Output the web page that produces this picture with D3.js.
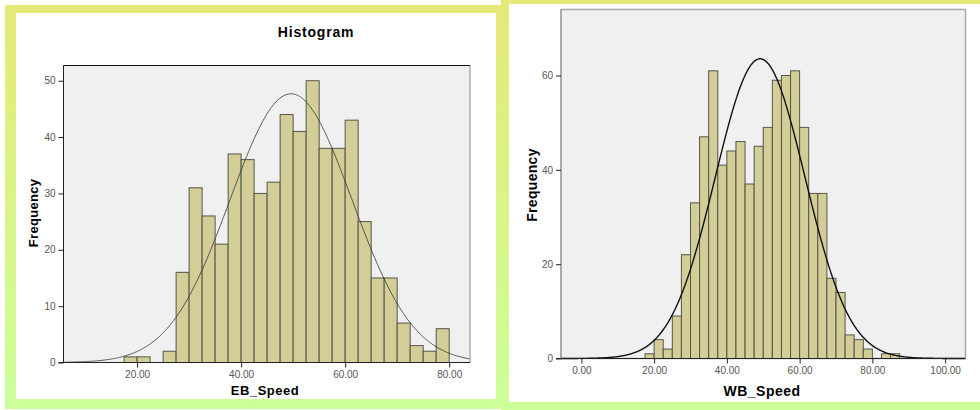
<!DOCTYPE html>
<html>
<head>
<meta charset="utf-8">
<script src="https://cdn.jsdelivr.net/npm/d3@7"></script>
<style>
  body { margin: 0; background: #fff; }
  svg { display: block; font-family: "Liberation Sans", Arial, sans-serif; }
</style>
</head>
<body>
<div id="chart"></div>
<script>
// bin start values (bins are 2.5 wide) and counts
const ebBins   = [17.5, 20, 22.5, 25, 27.5, 30, 32.5, 35, 37.5, 40, 42.5, 45, 47.5, 50, 52.5, 55, 57.5, 60, 62.5, 65, 67.5, 70, 72.5, 75, 77.5];
const ebCounts = [1, 1, 0, 2, 16, 31, 26, 21, 37, 36, 30, 32, 44, 41, 50, 38, 38, 43, 25, 15, 15, 7, 3, 2, 6];

const wbBins   = [17.5, 20, 22.5, 25, 27.5, 30, 32.5, 35, 37.5, 40, 42.5, 45, 47.5, 50, 52.5, 55, 57.5, 60, 62.5, 65, 67.5, 70, 72.5, 75, 77.5, 80, 82.5, 85];
const wbCounts = [1, 4, 2, 9, 22, 33, 47, 61, 41, 44, 46, 37, 45, 49, 59, 60, 61, 49, 35, 35, 17, 14, 5, 4, 2, 0, 1, 1];

const binWidth = 2.5;

const ebXTicks = [20, 40, 60, 80];
const ebYTicks = [0, 10, 20, 30, 40, 50];
const wbXTicks = [0, 20, 40, 60, 80, 100];
const wbYTicks = [0, 20, 40, 60];

const svg = d3.select("#chart").append("svg")
    .attr("width", 980)
    .attr("height", 410);

const grad = svg.append("defs").append("linearGradient")
    .attr("id", "frameGrad")
    .attr("x1", 0).attr("y1", 0).attr("x2", 0).attr("y2", 1);
grad.append("stop").attr("offset", "0%").attr("stop-color", "#e5e977");
grad.append("stop").attr("offset", "100%").attr("stop-color", "#ccff99");

// green frames round the two screenshots
svg.append("rect").attr("x", 5).attr("y", 5).attr("width", 504).attr("height", 404).attr("fill", "url(#frameGrad)");
svg.append("rect").attr("x", 16).attr("y", 13).attr("width", 480).attr("height", 386).attr("fill", "#fff");
svg.append("rect").attr("x", 501).attr("y", 0).attr("width", 479).attr("height", 410).attr("fill", "url(#frameGrad)");
svg.append("rect").attr("x", 509).attr("y", 4).attr("width", 471).attr("height", 398).attr("fill", "#fff");

function drawPanel(o) {
    const x = d3.scaleLinear().domain(o.xDomain).range([o.left, o.right]);
    const y = d3.scaleLinear().domain(o.yDomain).range([o.bottom, o.top]);
    const g = svg.append("g");

    g.append("rect")
        .attr("x", o.left).attr("y", o.top)
        .attr("width", o.right - o.left).attr("height", o.bottom - o.top)
        .attr("fill", "#f0f0f0")
        .attr("stroke", o.frameColor)
        .attr("stroke-width", o.frameWidth);

    if (o.darkTop) {
        g.append("line")
            .attr("x1", o.left).attr("x2", o.right)
            .attr("y1", o.top).attr("y2", o.top)
            .attr("stroke", "#111");
    }

    const data = o.bins.map((b, i) => ({x0: b, x1: b + binWidth, n: o.counts[i]})).filter(d => d.n > 0);

    g.selectAll(".bar").data(data).join("rect")
        .attr("class", "bar")
        .attr("x", d => x(d.x0))
        .attr("y", d => y(d.n))
        .attr("width", d => x(d.x1) - x(d.x0))
        .attr("height", d => y(0) - y(d.n))
        .attr("fill", "#d3ce97")
        .attr("stroke", "#55554a")
        .attr("stroke-width", 1);

    // normal curve from the mean and sd of the binned data
    const total = d3.sum(o.counts);
    const mean = d3.sum(o.bins, (b, i) => o.counts[i] * (b + binWidth / 2)) / total;
    const sd = Math.sqrt(d3.sum(o.bins, (b, i) => o.counts[i] * Math.pow(b + binWidth / 2 - mean, 2)) / (total - 1));
    const pdf = v => total * binWidth / (sd * Math.sqrt(2 * Math.PI)) * Math.exp(-0.5 * Math.pow((v - mean) / sd, 2));

    const xs = d3.range(o.curveFrom, o.xDomain[1], 0.2);
    g.append("path")
        .datum(xs)
        .attr("fill", "none")
        .attr("stroke", o.curveColor)
        .attr("stroke-width", o.curveWidth)
        .attr("d", d3.line().x(d => x(d)).y(d => y(pdf(d))));

    // axis lines
    g.append("line")
        .attr("x1", o.left - 5).attr("x2", o.right)
        .attr("y1", o.bottom).attr("y2", o.bottom)
        .attr("stroke", "#222");
    g.append("line")
        .attr("x1", o.left).attr("x2", o.left)
        .attr("y1", o.top).attr("y2", o.bottom)
        .attr("stroke", o.yLineColor);

    const xAxis = g.append("g")
        .attr("transform", "translate(0," + o.bottom + ")")
        .call(d3.axisBottom(x).tickValues(o.xTicks).tickFormat(d3.format(".2f")).tickSize(5).tickPadding(3));
    const yAxis = g.append("g")
        .attr("transform", "translate(" + o.left + ",0)")
        .call(d3.axisLeft(y).tickValues(o.yTicks).tickFormat(d3.format("d")).tickSize(5).tickPadding(3));

    [xAxis, yAxis].forEach(a => {
        a.select(".domain").remove();
        a.selectAll("line").attr("stroke", "#222");
        a.selectAll("text").attr("fill", "#555").style("font-size", "10px").style("font-family", "'Liberation Sans', Arial, sans-serif");
    });

    g.append("text")
        .attr("x", o.xLabelX).attr("y", o.xLabelY)
        .attr("text-anchor", "middle")
        .style("font-size", o.labelSize + "px")
        .style("font-weight", "bold")
        .style("letter-spacing", "0.5px")
        .text(o.xLabel);

    g.append("text")
        .attr("transform", "translate(" + o.yLabelX + "," + o.yLabelY + ") rotate(-90)")
        .attr("text-anchor", "middle")
        .style("font-size", o.labelSize + "px")
        .style("font-weight", "bold")
        .style("letter-spacing", "0.3px")
        .text("Frequency");
}

drawPanel({
    bins: ebBins, counts: ebCounts,
    xDomain: [5.85, 84], yDomain: [0, 52.7],
    left: 63.5, right: 470, top: 65.5, bottom: 362.5,
    xTicks: ebXTicks, yTicks: ebYTicks,
    frameColor: "#8a8a8a", frameWidth: 1, darkTop: true, yLineColor: "#222",
    curveFrom: 5.85, curveColor: "#333", curveWidth: 0.8,
    xLabel: "EB_Speed", xLabelX: 265, xLabelY: 395, yLabelX: 37.5, yLabelY: 213, labelSize: 13
});

drawPanel({
    bins: wbBins, counts: wbCounts,
    xDomain: [-5.6, 105.6], yDomain: [0, 74],
    left: 561, right: 965.5, top: 9.5, bottom: 358.5,
    xTicks: wbXTicks, yTicks: wbYTicks,
    frameColor: "#a8a8a8", frameWidth: 1.5, darkTop: false, yLineColor: "#999",
    curveFrom: -5.6, curveColor: "#111", curveWidth: 1.4,
    xLabel: "WB_Speed", xLabelX: 762, xLabelY: 396, yLabelX: 536.5, yLabelY: 185, labelSize: 14
});

svg.append("text")
    .attr("x", 316).attr("y", 37)
    .attr("text-anchor", "middle")
    .style("font-size", "14px")
    .style("font-weight", "bold")
    .style("letter-spacing", "0.8px")
    .text("Histogram");
</script>
</body>
</html>
